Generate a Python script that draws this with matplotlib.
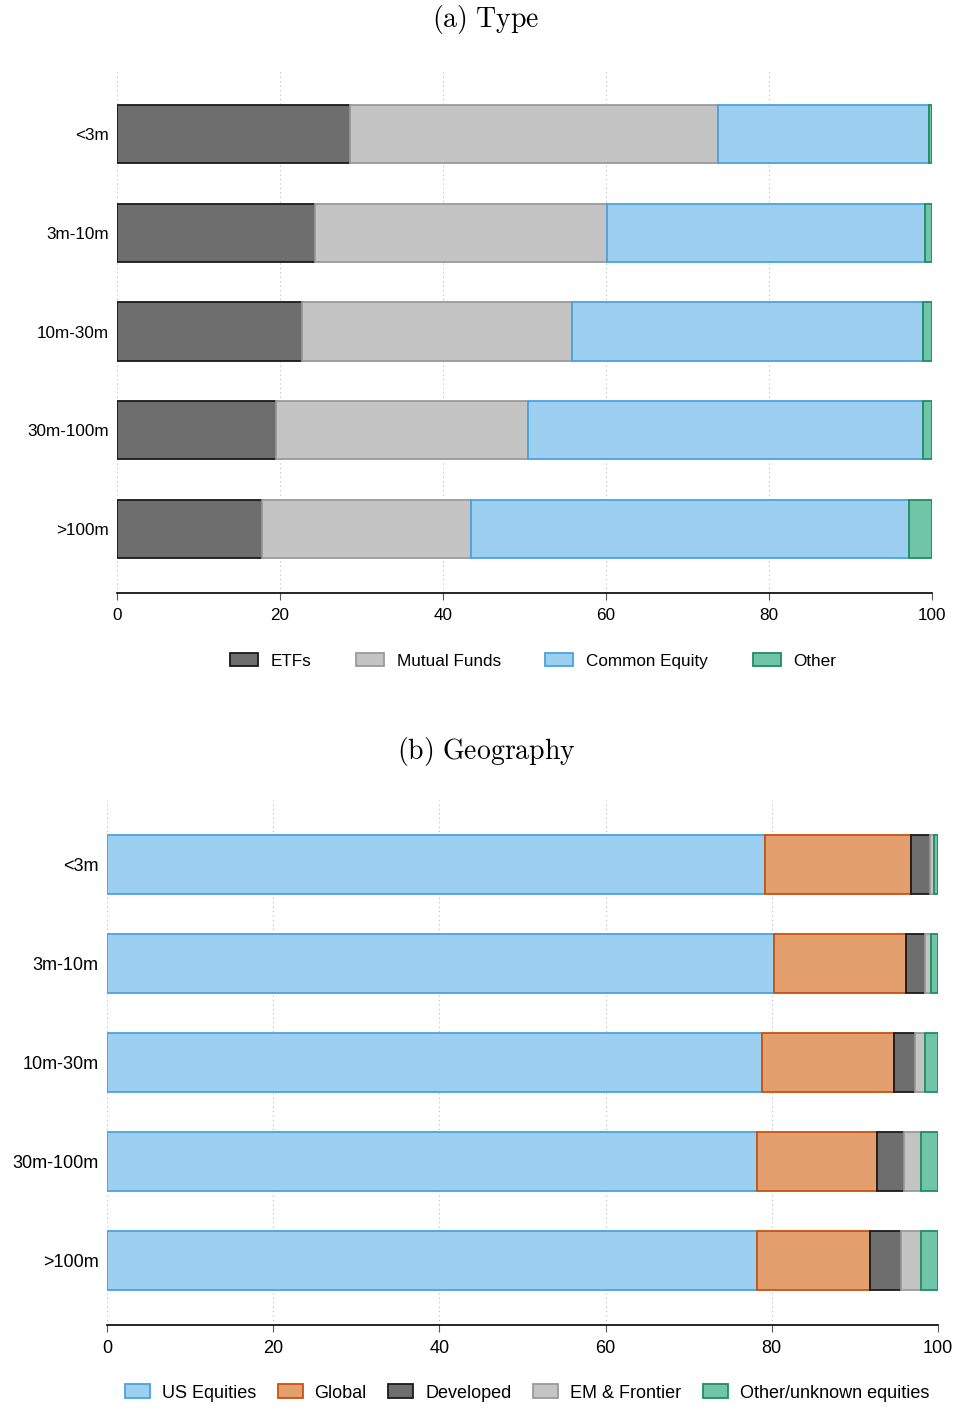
import matplotlib.pyplot as plt
import numpy as np

plt.rcParams['font.family'] = ['Liberation Sans', 'DejaVu Sans']
plt.rcParams['mathtext.fontset'] = 'cm'

sizes = ['<3m', '3m-10m', '10m-30m', '30m-100m', '>100m']

# (a) holdings by type, % of portfolio
etfs = [28.6, 24.3, 22.7, 19.5, 17.8]
mutual_funds = [45.1, 35.8, 33.1, 30.9, 25.6]
common_equity = [25.9, 39.1, 43.1, 48.45, 53.8]
other_type = [0.4, 0.8, 1.1, 1.15, 2.8]

# (b) holdings by geography, % of portfolio
us_equities = [79.2, 80.3, 78.8, 78.2, 78.2]
global_eq = [17.6, 15.8, 15.9, 14.4, 13.6]
developed = [2.2, 2.3, 2.5, 3.3, 3.7]
em_frontier = [0.5, 0.7, 1.2, 2.0, 2.5]
other_geo = [0.5, 0.9, 1.6, 2.1, 2.0]

type_series = [
    ('ETFs', etfs, '#6e6e6e', '#1a1a1a'),
    ('Mutual Funds', mutual_funds, '#c4c4c4', '#9a9a9a'),
    ('Common Equity', common_equity, '#9dd0f0', '#4aa3e0'),
    ('Other', other_type, '#70c4a8', '#1e8f62'),
]
geo_series = [
    ('US Equities', us_equities, '#9dd0f0', '#4aa3e0'),
    ('Global', global_eq, '#e39f6e', '#c9520e'),
    ('Developed', developed, '#6e6e6e', '#1a1a1a'),
    ('EM & Frontier', em_frontier, '#c4c4c4', '#9a9a9a'),
    ('Other/unknown equities', other_geo, '#70c4a8', '#1e8f62'),
]

fig = plt.figure(figsize=(9.55, 14.08), dpi=100)
W, H = 955, 1408


def panel(rect, series, title, title_y, legend_x, legend_y, fs, leg_kw):
    left, top, right, bottom = rect
    ax = fig.add_axes([left / W, 1 - bottom / H, (right - left) / W, (bottom - top) / H])
    y = np.arange(len(sizes))
    start = np.zeros(len(sizes))
    handles = []
    for label, vals, fc, ec in series:
        vals = np.array(vals)
        b = ax.barh(y, vals, left=start, height=0.59, color=fc, edgecolor=ec,
                    linewidth=1.3, label=label, zorder=3)
        start += vals
        handles.append(b)
    ax.set_xlim(0, 100)
    ax.set_ylim(4.65, -0.65)
    ax.set_yticks(y)
    ax.set_yticklabels(sizes, fontsize=fs)
    ax.set_xticks(np.arange(0, 101, 20))
    ax.tick_params(axis='y', length=0, pad=6)
    ax.tick_params(axis='x', labelsize=fs, length=5, width=0.8, color='#555555', pad=6)
    for s in ['top', 'right', 'left']:
        ax.spines[s].set_visible(False)
    ax.spines['bottom'].set_linewidth(1.2)
    ax.grid(axis='x', color='#bbbbbb', linestyle=(0, (1, 3)), linewidth=0.8, zorder=0)
    fig.text(0.509, 1 - title_y / H, title, ha='center', va='center', fontsize=20)
    fig.legend(handles=handles, loc='center', bbox_to_anchor=(legend_x / W, 1 - legend_y / H),
               ncol=len(series), frameon=False, fontsize=fs, handleheight=0.8, **leg_kw)
    return ax


panel((117, 70, 932, 593), type_series, r'$\mathrm{(a)\ Type}$', 20, 533, 661, 12.3,
      dict(handlelength=1.65, handletextpad=0.75, columnspacing=2.6))
panel((107, 800, 938, 1325), geo_series, r'$\mathrm{(b)\ Geography}$', 752, 527, 1393, 13,
      dict(handlelength=1.38, handletextpad=0.66, columnspacing=1.2))

fig.savefig('out.png', dpi=100)
